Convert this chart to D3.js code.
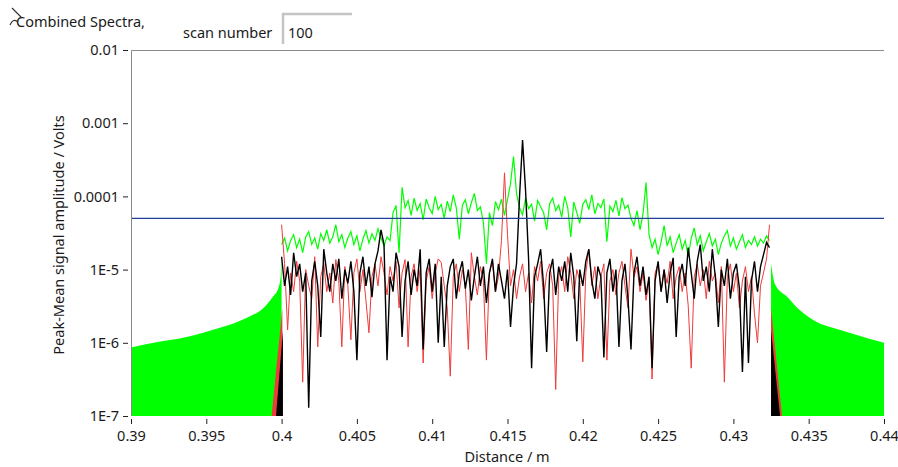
<!DOCTYPE html>
<html>
<head>
<meta charset="utf-8">
<script src="https://cdn.jsdelivr.net/npm/d3@7"></script>
<style>
  body { margin: 0; background: #fff; }
  svg { font-family: "Noto Sans", sans-serif; display: block; }
</style>
</head>
<body>
<div id="vis"></div>
<script>
// amplitudes below are in microvolts
const uV = 1e-6;
const sampleStart = 0.4;    // m, first sample of the main band
const sampleStep = 0.0002;  // m between samples

const greenMid = [
    22, 27, 18, 25, 30, 20, 26, 17, 28, 33,
    22, 27, 19, 31, 25, 35, 23, 28, 41, 24,
    30, 20, 27, 33, 22, 29, 18, 26, 34, 23,
    31, 25, 36, 27, 21, 28, 25, 60, 75, 17,
    133, 70, 88, 55, 95, 64, 80, 48, 92, 70,
    58, 100, 66, 78, 50, 86, 62, 105, 70, 26,
    75, 90, 58, 82, 110, 64, 72, 44, 12, 60,
    40, 85, 66, 92, 55, 90, 150, 350, 110, 70,
    56, 95, 68, 78, 46, 88, 72, 60, 35, 80,
    95, 64, 76, 52, 100, 70, 28, 84, 60, 43,
    78, 90, 66, 105, 58, 80, 70, 92, 24, 74,
    62, 88, 54, 96, 68, 76, 50, 40, 64, 35,
    58, 155, 30, 20, 26, 16, 24, 40, 21, 28,
    17, 23, 30, 19, 25, 15, 27, 37, 22, 29,
    18, 24, 31, 21, 26, 16, 23, 29, 34, 21,
    27, 19, 24, 30, 20, 25, 22, 28, 21, 26,
    23, 29, 25
];

const redMid = [
    41, 12, 1.5, 9, 5, 13, 7, 0.29, 10, 6,
    4, 15, 0.88, 8, 12, 5, 9, 3.5, 13.7, 7,
    0.88, 11, 6, 1.1, 9, 14, 5, 10, 3.8, 1.37,
    8, 12, 6, 15, 9, 4.5, 11, 7, 13, 3,
    9, 13.7, 0.88, 8, 12, 5, 10, 0.53, 7, 11,
    4, 9, 14, 12.5, 6, 3, 0.35, 8, 12, 5,
    10, 6, 0.81, 17, 8, 4.5, 11, 7, 0.58, 9,
    13, 5, 8, 25, 210, 30, 6, 10, 4, 8,
    12, 5, 9, 3.5, 11, 7, 13, 4, 9, 12,
    6, 0.23, 8, 11, 5, 15, 9, 4, 10, 7,
    0.55, 9, 19, 6, 11, 4, 8, 12, 0.58, 7,
    10, 4.5, 9, 13, 6, 3, 19, 8, 11, 5,
    9, 3.8, 7, 0.32, 9, 12, 5, 10, 6.5, 13,
    4, 8, 11, 5, 9, 3.2, 0.45, 8, 12, 6,
    10, 4, 13, 7, 9, 3.5, 11, 0.29, 8, 12,
    5, 9, 3, 7, 11, 5, 8, 2.5, 1.0, 6,
    9, 14, 41
];

const blackMid = [
    15, 6, 11, 4.5, 17, 8, 12, 5, 9, 0.13,
    7, 13, 6, 1.2, 19, 9, 5, 12, 7, 14,
    4, 10, 6.5, 13, 5, 0.58, 9, 15, 6, 11,
    4.2, 12, 18, 35, 22, 0.58, 8, 5, 17, 11,
    1.2, 7, 13, 4.5, 10, 6, 19, 0.81, 9, 14,
    5, 12, 1.0, 8, 0.88, 6, 11, 14, 4, 9,
    13, 5.5, 10, 3.8, 8, 15, 6, 11, 3.5, 9,
    14, 5, 12, 7, 4, 10, 1.65, 6, 12, 100,
    590, 120, 14, 0.45, 8, 12, 19, 6, 0.75, 9,
    14, 4.5, 11, 7, 13, 5, 17, 8, 1.05, 10,
    6, 13, 19, 7, 4, 11, 8, 0.63, 9, 14,
    5, 10, 0.88, 7, 12, 4, 0.81, 9, 15, 6,
    11, 4.5, 8, 0.45, 7, 13, 5, 10, 3.5, 9,
    14.5, 1.2, 8, 12, 6, 20, 9, 4, 13, 22,
    7, 11, 5, 19, 8, 1.65, 10, 6, 14, 4,
    9, 12, 5.5, 0.40, 8, 0.53, 7, 13, 5, 11,
    16, 23.5, 20
];

// sidelobe envelopes outside the band: [distance m, amplitude uV]
const greenLeftLobe = [[0.39, 0.86], [0.3915, 1.0], [0.3937, 1.2], [0.3959, 1.6], [0.3977, 2.2],
    [0.3988, 3.0], [0.3994, 4.2], [0.3998, 5.7], [0.39995, 8.6], [0.4, 16]];
const greenRightLobe = [[0.4325, 12], [0.43276, 6.3], [0.4336, 4.2], [0.4344, 2.8], [0.4356, 1.9],
    [0.4366, 1.6], [0.4377, 1.37], [0.4389, 1.15], [0.44, 1.0]];
const redLeftLobe = [[0.39934, 0.1], [0.39963, 0.41], [0.39993, 1.65], [0.40005, 3]];
const redRightLobe = [[0.4325, 3], [0.43323, 0.1]];
const blackLeftLobe = [[0.39963, 0.1], [0.40009, 1.5]];
const blackRightLobe = [[0.4325, 1.5], [0.4331, 0.1]];

const threshold = 5e-5;

const xTicks = [0.39, 0.395, 0.4, 0.405, 0.41, 0.415, 0.42, 0.425, 0.43, 0.435, 0.44];
const xTickLabels = ["0.39", "0.395", "0.4", "0.405", "0.41", "0.415", "0.42", "0.425", "0.43", "0.435", "0.44"];
const yTicks = [1e-7, 1e-6, 1e-5, 1e-4, 1e-3, 1e-2];
const yTickLabels = ["1E-7", "1E-6", "1E-5", "0.0001", "0.001", "0.01"];
const scanNumber = "100";

const width = 898, height = 467;
const margin = { top: 50, right: 14, bottom: 51, left: 131 };

const svg = d3.select("#vis")
    .append("svg")
    .attr("width", width)
    .attr("height", height);

const x = d3.scaleLinear()
    .domain([0.39, 0.44])
    .range([margin.left, width - margin.right]);

const y = d3.scaleLog()
    .domain([1e-7, 1e-2])
    .range([height - margin.bottom, margin.top]);

svg.append("clipPath")
    .attr("id", "plot-clip")
    .append("rect")
    .attr("x", margin.left)
    .attr("y", margin.top)
    .attr("width", width - margin.left - margin.right)
    .attr("height", height - margin.top - margin.bottom);

const plot = svg.append("g").attr("clip-path", "url(#plot-clip)");

const lobeArea = d3.area()
    .x(d => x(d[0]))
    .y0(y(1e-7))
    .y1(d => y(d[1] * uV))
    .curve(d3.curveMonotoneX);

const bandLine = d3.line()
    .x((d, i) => x(sampleStart + i * sampleStep))
    .y(d => y(d * uV));

const spectra = [
    { color: "#00ff00", width: 1.2, lobes: [greenLeftLobe, greenRightLobe], band: greenMid },
    { color: "#ee3b3b", width: 1, lobes: [redLeftLobe, redRightLobe], band: redMid },
    { color: "#000000", width: 1.4, lobes: [blackLeftLobe, blackRightLobe], band: blackMid }
];

spectra.forEach(s => {
    s.lobes.forEach(l => {
        plot.append("path")
            .attr("d", lobeArea(l))
            .attr("fill", s.color);
    });
    plot.append("path")
        .attr("d", bandLine(s.band))
        .attr("fill", "none")
        .attr("stroke", s.color)
        .attr("stroke-width", s.width);
});

// threshold line
plot.append("line")
    .attr("x1", x(0.39))
    .attr("x2", x(0.44))
    .attr("y1", y(threshold))
    .attr("y2", y(threshold))
    .attr("stroke", "#1f3f9a")
    .attr("stroke-width", 1.3);

// frame: left and top edges
svg.append("path")
    .attr("d", `M${x(0.39) + 0.5},${y(1e-7)}V${y(1e-2) + 0.5}H${x(0.44)}`)
    .attr("fill", "none")
    .attr("stroke", "#8a8a8a")
    .attr("stroke-width", 1);

// y axis
svg.append("g")
    .attr("transform", `translate(${margin.left - 3},0)`)
    .call(d3.axisLeft(y).tickValues(yTicks).tickSize(5).tickPadding(4)
        .tickFormat((d, i) => yTickLabels[i]))
    .call(g => g.select(".domain").remove())
    .call(g => g.selectAll(".tick line").attr("stroke", "#222"))
    .call(g => g.selectAll("text").attr("fill", "#1a1a1a").style("font-size", "14.5px")
        .style("font-family", "'Noto Sans', sans-serif"));

// x axis
svg.append("g")
    .attr("transform", `translate(0,${height - margin.bottom + 3})`)
    .call(d3.axisBottom(x).tickValues(xTicks).tickSize(5).tickPadding(7)
        .tickFormat((d, i) => xTickLabels[i]))
    .call(g => g.select(".domain").remove())
    .call(g => g.selectAll(".tick line").attr("stroke", "#222"))
    .call(g => g.selectAll("text").attr("fill", "#1a1a1a").style("font-size", "14.5px")
        .style("font-family", "'Noto Sans', sans-serif"));

// axis titles
svg.append("text")
    .attr("transform", `translate(64,${(margin.top + height - margin.bottom) / 2 + 2}) rotate(-90)`)
    .attr("text-anchor", "middle")
    .attr("fill", "#1a1a1a")
    .style("font-size", "14.5px")
    .text("Peak-Mean signal amplitude / Volts");

svg.append("text")
    .attr("x", 507)
    .attr("y", 462)
    .attr("text-anchor", "middle")
    .attr("fill", "#1a1a1a")
    .style("font-size", "14.5px")
    .text("Distance / m");

// header
svg.append("text")
    .attr("x", 16)
    .attr("y", 27)
    .attr("fill", "#1a1a1a")
    .style("font-size", "14.5px")
    .text("Combined Spectra,");

svg.append("path")
    .attr("d", "M12,8L22,18M10,25c2,-5 5,-6 8,-3")
    .attr("fill", "none")
    .attr("stroke", "#333")
    .attr("stroke-width", 1.2);

svg.append("text")
    .attr("x", 183)
    .attr("y", 38)
    .attr("fill", "#1a1a1a")
    .style("font-size", "14.5px")
    .text("scan number");

const box = svg.append("g").attr("transform", "translate(282,13)");
box.append("rect")
    .attr("width", 70)
    .attr("height", 31)
    .attr("fill", "#fff");
box.append("path")
    .attr("d", "M1,31V1H70")
    .attr("fill", "none")
    .attr("stroke", "#c4c4c4")
    .attr("stroke-width", 2.5);
box.append("text")
    .attr("x", 6)
    .attr("y", 25)
    .attr("fill", "#1a1a1a")
    .style("font-size", "14.5px")
    .text(scanNumber);
</script>
</body>
</html>
